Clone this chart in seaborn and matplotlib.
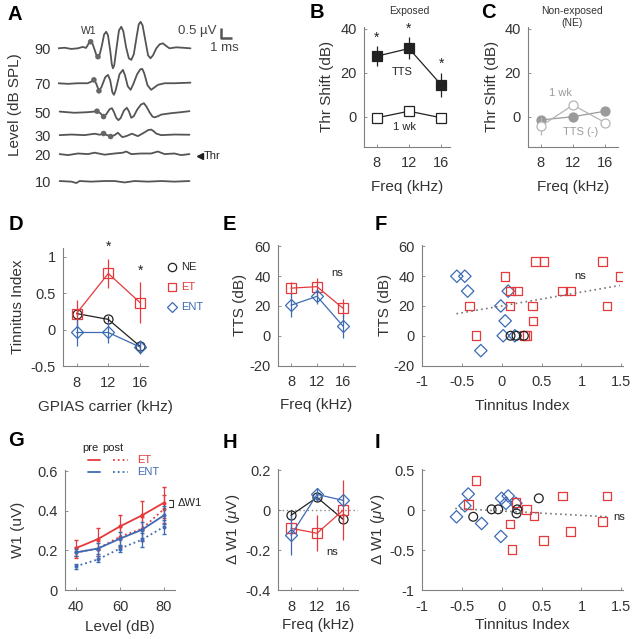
import numpy as np
import matplotlib
matplotlib.use("Agg")
import matplotlib.pyplot as plt
from matplotlib.ticker import FormatStrFormatter
import seaborn as sns

# ---------------- data ----------------
# A: ABR traces, (time ms, amplitude uV)
abr_levels = [90, 70, 50, 30, 20, 10]
abr_90 = [(0, 0), (0.6, 0.03), (1.2, -0.03), (1.8, 0), (2.25, 0.07), (2.55, 0.02),
          (2.8, 0.25), (2.97, 0.33), (3.15, 0.22), (3.35, -0.1), (3.5, -0.35), (3.64, -0.42),
          (3.8, -0.3), (4.0, 0.15), (4.2, 0.7), (4.39, 0.83), (4.55, 0.65), (4.75, -0.1),
          (4.9, -0.8), (5.0, -1.0), (5.12, -0.85), (5.35, 0.1), (5.55, 0.9), (5.76, 1.08),
          (5.95, 0.85), (6.2, 0.05), (6.45, -0.5), (6.67, -0.58), (6.9, -0.3), (7.15, 0.55),
          (7.35, 1.2), (7.52, 1.33), (7.7, 1.15), (7.95, 0.4), (8.2, -0.35), (8.42, -0.5),
          (8.65, -0.35), (8.95, 0.0), (9.25, 0.2), (9.55, 0.25), (9.85, 0.12), (10.15, 0),
          (10.75, 0.05), (11.35, 0.03), (12.06, 0)]
abr_70 = [(0, 0), (0.9, -0.03), (1.8, 0), (2.7, 0), (3.1, 0.1), (3.27, 0.17), (3.45, 0.02),
          (3.73, -0.38), (3.95, -0.2), (4.3, 0.3), (4.55, 0.42), (4.75, 0.15), (4.95, -0.45),
          (5.09, -0.58), (5.25, -0.35), (5.6, 0.45), (5.91, 0.67), (6.1, 0.4), (6.35, -0.15),
          (6.61, -0.33), (6.85, -0.05), (7.2, 0.45), (7.5, 0.7), (7.67, 0.72), (7.85, 0.5),
          (8.15, -0.1), (8.48, -0.33), (8.8, -0.2), (9.1, -0.08), (9.7, 0), (10.6, 0),
          (12.06, 0.03)]
abr_50 = [(0.15, 0.03), (1.5, -0.03), (2.7, 0), (3.3, 0.03), (3.55, 0.05), (3.85, -0.05),
          (4.15, -0.22), (4.4, -0.1), (4.7, 0.15), (4.91, 0.2), (5.1, 0.0), (5.3, -0.28),
          (5.5, -0.4), (5.7, -0.3), (6.0, 0.08), (6.27, 0.22), (6.45, 0.05), (6.67, -0.28),
          (6.9, -0.2), (7.2, 0.12), (7.55, 0.38), (7.82, 0.45), (8.05, 0.28), (8.33, 0.0),
          (8.6, -0.22), (8.79, -0.26), (9.1, -0.2), (9.4, -0.12), (10.3, -0.05), (11.2, 0),
          (11.97, 0.05)]
abr_30 = [(0.15, 0), (1.21, 0.03), (2.42, 0), (3.33, 0.07), (3.8, 0.02), (4.15, 0.08),
          (4.48, 0), (4.79, -0.07), (5.15, 0), (5.45, 0.12), (5.85, -0.1), (6.21, -0.05),
          (6.73, 0.07), (7.27, -0.05), (7.6, 0.05), (7.88, 0.14), (8.2, 0.25), (8.48, 0.28),
          (8.75, 0.18), (8.94, 0.08), (9.39, 0), (10.6, 0.03), (11.97, 0.02)]
abr_20 = [(0.15, 0), (0.91, -0.05), (1.82, 0.03), (2.73, 0), (3.33, 0.07), (4.24, -0.03),
          (5.15, 0.03), (5.91, 0.07), (6.21, 0.13), (6.67, 0), (7.58, 0.03), (8.48, 0.03),
          (9.09, 0.13), (9.7, 0), (10.6, 0.03), (11.2, -0.05), (11.97, 0)]
abr_10 = [(0.15, 0), (1.21, -0.03), (1.67, -0.1), (1.97, 0), (3.03, -0.03), (4.24, 0),
          (5.15, 0), (6.06, -0.07), (6.97, 0), (8.18, -0.03), (9.39, 0), (10.6, -0.03),
          (11.97, 0)]
w1_points = [[(2.97, 0.33), (3.64, -0.42)], [(3.27, 0.17), (3.73, -0.38)],
             [(3.55, 0.05), (4.15, -0.22)], [(4.15, 0.08), (4.79, -0.07)], [], []]

freq = [8, 12, 16]

# B: exposed threshold shift
b_tts = [27.5, 31, 14.5]
b_tts_err = [4.5, 5, 5.5]
b_1wk = [-0.5, 2.5, -0.5]
b_1wk_err = [0.8, 0.8, 0.8]

# C: non-exposed
c_tts = [-1.5, 0, 2.5]
c_tts_err = [1.5, 1.5, 1.5]
c_1wk = [-4.3, 5.3, -2.7]
c_1wk_err = [4, 1.5, 1.5]

# D: tinnitus index by GPIAS carrier
d_ne = [0.22, 0.14, -0.23]
d_ne_err = [0.04, 0.04, 0.05]
d_et = [0.22, 0.77, 0.37]
d_et_err = [0.18, 0.2, 0.28]
d_ent = [-0.04, -0.04, -0.24]
d_ent_err = [0.18, 0.14, 0.1]

# E: TTS by freq
e_et = [32, 33, 18.5]
e_et_err = [4, 6, 6]
e_ent = [20.5, 26.5, 6.5]
e_ent_err = [8, 5, 8]

# F: TTS vs tinnitus index
f_ent_x = [-0.56, -0.46, -0.425, -0.26, -0.01, 0.045, 0.02, 0.083, 0.166]
f_ent_y = [40, 40, 30, -10, 20, 10, 0, 30, 0]
f_et_x = [-0.405, -0.321, 0.041, 0.104, 0.112, 0.196, 0.29, 0.32, 0.387, 0.395,
          0.425, 0.529, 0.76, 0.865, 1.263, 1.32, 1.49]
f_et_y = [20, 0, 40, 20, 30, 30, 0, 0, 20, 10, 50, 50, 30, 30, 50, 20, 40]
f_ne_x = [0.112, 0.187, 0.279]
f_ne_y = [0, 0, 0]
f_fit_x = [-0.565, 1.48]
f_fit_y = [14.8, 33.8]

# G: W1 amplitude vs level
g_level = [40, 50, 60, 70, 80]
g_et_pre = [0.212, 0.258, 0.322, 0.378, 0.442]
g_et_pre_err = [0.04, 0.055, 0.06, 0.075, 0.08]
g_et_post = [0.19, 0.21, 0.27, 0.31, 0.41]
g_et_post_err = [0.03, 0.04, 0.05, 0.06, 0.07]
g_ent_pre = [0.19, 0.21, 0.26, 0.305, 0.378]
g_ent_pre_err = [0.02, 0.03, 0.035, 0.04, 0.045]
g_ent_post = [0.12, 0.155, 0.21, 0.255, 0.32]
g_ent_post_err = [0.012, 0.015, 0.02, 0.035, 0.035]

# H: delta W1 by freq
h_ne = [-0.025, 0.065, -0.045]
h_ne_err = [0.02, 0.02, 0.02]
h_et = [-0.09, -0.115, 0.0]
h_et_err = [0.03, 0.09, 0.15]
h_ent = [-0.125, 0.08, 0.05]
h_ent_err = [0.1, 0.03, 0.02]

# I: delta W1 vs tinnitus index
i_ent_x = [-0.564, -0.459, -0.417, -0.25, -0.009, 0.0, 0.054, 0.083, 0.179]
i_ent_y = [-0.084, 0.054, 0.201, -0.168, -0.33, 0.147, 0.084, 0.176, 0.084]
i_et_x = [-0.417, -0.321, 0.104, 0.13, 0.179, 0.312, 0.404, 0.524, 0.76, 0.865, 1.26, 1.32]
i_et_y = [0.072, 0.369, -0.176, -0.49, 0.097, 0.009, -0.072, -0.383, 0.175, -0.27,
          -0.146, 0.175]
i_ne_x = [-0.355, -0.125, -0.042, 0.196, 0.187, 0.466]
i_ne_y = [-0.084, 0.009, 0.009, 0.009, -0.042, 0.147]
i_fit_x = [-0.58, 1.35]
i_fit_y = [0.02, -0.085]

# ---------------- style ----------------
sns.set_style("ticks")
plt.rcParams['font.family'] = ['Liberation Sans', 'DejaVu Sans']
plt.rcParams['axes.unicode_minus'] = False
plt.rcParams['mathtext.fontset'] = 'custom'
plt.rcParams['mathtext.rm'] = 'Liberation Sans'
plt.rcParams['mathtext.it'] = 'Liberation Sans:italic'

RED = '#e5393c'
BLUE = '#3c6bb4'
TXT = '#333333'
SPINE = '#808080'

W, H = 636, 639
fig = plt.figure(figsize=(W / 100, H / 100), dpi=100)


def box(l, t, r, b):
    return fig.add_axes([l / W, 1 - b / H, (r - l) / W, (b - t) / H])


def style_ax(ax, xlab, ylab, ylab_off, xlab_off):
    sns.despine(ax=ax)
    for s in ['left', 'bottom']:
        ax.spines[s].set_color(SPINE)
        ax.spines[s].set_linewidth(0.8)
    ax.tick_params(direction='in', length=2, width=0.6, color=SPINE,
                   labelsize=10.5, labelcolor=TXT)
    ax.tick_params(axis='y', pad=5)
    ax.tick_params(axis='x', pad=7)
    ax.set_facecolor('none')
    ax.yaxis.set_major_formatter(FormatStrFormatter('%g'))
    ax.xaxis.set_major_formatter(FormatStrFormatter('%g'))
    bb = ax.get_position()
    wpx, hpx = bb.width * W, bb.height * H
    ax.set_xlabel(xlab, fontsize=11, color=TXT)
    ax.set_ylabel(ylab, fontsize=11, color=TXT)
    ax.yaxis.set_label_coords(-(ylab_off - 7) / wpx, 0.5)
    ax.xaxis.set_label_coords(0.5, -(xlab_off - 7) / hpx)


def err_line(ax, x, y, e, color, marker, mfc, ms=6, ls='-', lw=0.9, cap=0):
    ax.errorbar(x, y, yerr=e, fmt='none', ecolor=color, elinewidth=0.9, capsize=cap)
    sns.lineplot(x=x, y=y, ax=ax, color=color, lw=lw, ls=ls, marker=marker, ms=ms,
                 markerfacecolor=mfc, markeredgecolor=color, markeredgewidth=0.9)


# ---------------- A ----------------
axA = box(58, 15, 192, 195)
trace_offset = [0, -1.75, -3.2, -4.35, -5.3, -6.65]
for trace, off, w1 in zip([abr_90, abr_70, abr_50, abr_30, abr_20, abr_10], trace_offset, w1_points):
    arr = np.array(trace)
    sns.lineplot(x=arr[:, 0], y=arr[:, 1] + off, ax=axA, color='#555555', lw=1.3,
                 sort=False, estimator=None)
    if w1:
        p = np.array(w1)
        sns.scatterplot(x=p[:, 0], y=p[:, 1] + off, ax=axA, color='#666666', s=16,
                        edgecolor='none', zorder=3)
axA.set_xlim(0, 12.2)
axA.set_ylim(-7.35, 1.67)
axA.set_yticks(trace_offset)
axA.set_yticklabels([str(v) for v in abr_levels])
axA.set_xticks([])
axA.tick_params(axis='y', length=0, pad=5, labelsize=10.5, labelcolor=TXT)
sns.despine(ax=axA, left=True, bottom=True)
axA.set_facecolor('none')
axA.set_ylabel('Level (dB SPL)', fontsize=11, color=TXT)
axA.yaxis.set_label_coords(-(43 - 7) / 134, 0.5)

# ---------------- B ----------------
axB = box(364, 26.5, 450, 146.6)
err_line(axB, freq, b_tts, b_tts_err, '#222222', 's', '#222222', ms=6.5)
err_line(axB, freq, b_1wk, b_1wk_err, '#222222', 's', 'white', ms=6.5)
for x, y, e in zip(freq, b_tts, b_tts_err):
    axB.text(x, y + e + 4, '*', ha='center', va='center', fontsize=10, color='#222222')
axB.text(11.15, 20.3, 'TTS', ha='center', va='center', fontsize=8, color='#222222')
axB.text(11.5, -4.7, '1 wk', ha='center', va='center', fontsize=8, color='#222222')
axB.set_xlim(6.4, 17.1)
axB.set_ylim(-13.6, 41)
axB.set_xticks(freq)
axB.set_yticks([0, 20, 40])
style_ax(axB, 'Freq (kHz)', 'Thr Shift (dB)', 37, 40)

# ---------------- C ----------------
axC = box(528, 26.5, 618, 146.6)
err_line(axC, freq, c_tts, c_tts_err, '#9a9a9a', 'o', '#9a9a9a', ms=6.5)
err_line(axC, freq, c_1wk, c_1wk_err, '#b5b5b5', 'o', 'white', ms=6.5)
axC.text(10.4, 10.8, '1 wk', ha='center', va='center', fontsize=8, color='#9a9a9a')
axC.text(12.9, -7, 'TTS (-)', ha='center', va='center', fontsize=8, color='#9a9a9a')
axC.set_xlim(6.4, 17.6)
axC.set_ylim(-13.6, 41)
axC.set_xticks(freq)
axC.set_yticks([0, 20, 40])
style_ax(axC, 'Freq (kHz)', 'Thr Shift (dB)', 36, 40)

# ---------------- D ----------------
axD = box(63, 248, 148, 366)
err_line(axD, freq, d_ne, d_ne_err, '#222222', 'o', 'none', ms=6.5)
err_line(axD, freq, d_et, d_et_err, RED, 's', 'none', ms=6.5)
err_line(axD, freq, d_ent, d_ent_err, BLUE, 'D', 'none', ms=6)
for i in [1, 2]:
    axD.text(freq[i], d_et[i] + d_et_err[i] + 0.16, '*', ha='center', va='center',
             fontsize=10, color='#222222')
axD.set_xlim(6.3, 17)
axD.set_ylim(-0.49, 1.12)
axD.set_xticks(freq)
axD.set_yticks([-0.5, 0, 0.5, 1])
style_ax(axD, 'GPIAS carrier (kHz)', 'Tinnitus Index', 45, 41)

# ---------------- E ----------------
axE = box(277.7, 245, 355, 365.5)
err_line(axE, freq, e_et, e_et_err, RED, 's', 'none', ms=6.5)
err_line(axE, freq, e_ent, e_ent_err, BLUE, 'D', 'none', ms=6)
axE.text(15.1, 42.3, 'ns', ha='center', va='center', fontsize=8, color='#222222')
axE.set_xlim(5.95, 17.85)
axE.set_ylim(-19.8, 61)
axE.set_xticks(freq)
axE.set_yticks([-20, 0, 20, 40, 60])
style_ax(axE, 'Freq (kHz)', 'TTS (dB)', 37.7, 40)

# ---------------- F ----------------
axF = box(421.7, 245, 623, 365.5)
sns.lineplot(x=f_fit_x, y=f_fit_y, ax=axF, color='#777777', lw=1.2, ls=(0, (1, 2)))
sns.scatterplot(x=f_ent_x, y=f_ent_y, ax=axF, marker='D', s=40, color=BLUE,
                facecolor='none', edgecolor=BLUE, linewidth=0.9)
sns.scatterplot(x=f_et_x, y=f_et_y, ax=axF, marker='s', s=38, color=RED,
                facecolor='none', edgecolor=RED, linewidth=0.9)
sns.scatterplot(x=f_ne_x, y=f_ne_y, ax=axF, marker='o', s=40, color='#222222',
                facecolor='none', edgecolor='#222222', linewidth=0.9)
axF.text(0.98, 40, 'ns', ha='center', va='center', fontsize=8, color='#222222')
axF.set_xlim(-1, 1.52)
axF.set_ylim(-19.8, 61)
axF.set_xticks([-1, -0.5, 0, 0.5, 1, 1.5])
axF.set_yticks([-20, 0, 20, 40, 60])
style_ax(axF, 'Tinnitus Index', 'TTS (dB)', 36.7, 40)

# ---------------- G ----------------
axG = box(65, 469.5, 175, 590)
for vals, errs, col, ls in [(g_et_pre, g_et_pre_err, RED, '-'), (g_et_post, g_et_post_err, RED, ':'),
                            (g_ent_pre, g_ent_pre_err, BLUE, '-'),
                            (g_ent_post, g_ent_post_err, BLUE, ':')]:
    err_line(axG, g_level, vals, errs, col, 'o', col, ms=2, ls=ls, lw=1.3, cap=1.5)
axG.plot([82.3, 84.3, 84.3, 82.3], [0.458, 0.458, 0.418, 0.418], color='#333333',
         lw=0.8, clip_on=False)
axG.text(86.2, 0.438, '\u0394W1', ha='left', va='center', fontsize=8, color='#222222')
axG.set_xlim(35, 85)
axG.set_ylim(0, 0.61)
axG.set_xticks([40, 60, 80])
axG.set_yticks([0, 0.2, 0.4, 0.6])
style_ax(axG, 'Level (dB)', 'W1 (uV)', 47, 37)

# ---------------- H ----------------
axH = box(277.7, 468.5, 358, 590)
axH.axhline(0, color='#888888', lw=1.0, ls=(0, (1, 2)), zorder=0)
err_line(axH, freq, h_ne, h_ne_err, '#222222', 'o', 'none', ms=6.5)
err_line(axH, freq, h_et, h_et_err, RED, 's', 'none', ms=6.5)
err_line(axH, freq, h_ent, h_ent_err, BLUE, 'D', 'none', ms=6)
axH.text(14.3, -0.21, 'ns', ha='center', va='center', fontsize=8, color='#222222')
axH.set_xlim(5.95, 18.3)
axH.set_ylim(-0.4, 0.21)
axH.set_xticks(freq)
axH.set_yticks([-0.4, -0.2, 0, 0.2])
style_ax(axH, 'Freq (kHz)', '\u0394 W1 ($\\mu$V)', 42.7, 35)

# ---------------- I ----------------
axI = box(421.7, 468.5, 623, 590)
sns.lineplot(x=i_fit_x, y=i_fit_y, ax=axI, color='#777777', lw=1.2, ls=(0, (1, 2)))
sns.scatterplot(x=i_ent_x, y=i_ent_y, ax=axI, marker='D', s=40, color=BLUE,
                facecolor='none', edgecolor=BLUE, linewidth=0.9)
sns.scatterplot(x=i_et_x, y=i_et_y, ax=axI, marker='s', s=38, color=RED,
                facecolor='none', edgecolor=RED, linewidth=0.9)
sns.scatterplot(x=i_ne_x, y=i_ne_y, ax=axI, marker='o', s=40, color='#222222',
                facecolor='none', edgecolor='#222222', linewidth=0.9)
axI.text(1.47, -0.09, 'ns', ha='center', va='center', fontsize=8, color='#222222')
axI.set_xlim(-1, 1.52)
axI.set_ylim(-1, 0.52)
axI.set_xticks([-1, -0.5, 0, 0.5, 1, 1.5])
axI.set_yticks([-1, -0.5, 0, 0.5])
style_ax(axI, 'Tinnitus Index', '\u0394 W1 ($\\mu$V)', 41.7, 35)

# ---------------- overlay: letters, scale bar, legends ----------------
ov = fig.add_axes([0, 0, 1, 1])
ov.set_xlim(0, W)
ov.set_ylim(H, 0)
ov.axis('off')
for letter, (lx, ly) in zip('ABCDEFGHI', [(15, 15), (317, 13), (488, 13), (16, 225), (229, 225),
                                         (381, 225), (16, 441), (230, 443), (377, 443)]):
    ov.text(lx, ly, letter, fontsize=14.5, fontweight='bold', ha='center', va='center', color='black')

# scale bar in A
ov.plot([221, 221, 232], [27.7, 37.7, 37.7], color='#555555', lw=1.8, solid_capstyle='butt')
ov.text(216, 31, '0.5 \u00b5V', ha='right', va='center', fontsize=9.5, color='#444444')
ov.text(224, 48, '1 ms', ha='center', va='center', fontsize=9.5, color='#444444')
ov.text(89, 31, 'W1', ha='center', va='center', fontsize=7.5, color='#333333')
ov.plot([199.5], [155.5], marker='<', ms=4.5, color='#222222')
ov.text(204, 156, 'Thr', ha='left', va='center', fontsize=8, color='#222222')

# titles B / C
ov.text(409, 11, 'Exposed', ha='center', va='center', fontsize=7.5, color='#333333')
ov.text(572, 17, 'Non-exposed\n(NE)', ha='center', va='center', fontsize=7.5, color='#333333',
        linespacing=1.15)

# legend D
for (mk, col, lab), ly in zip([('o', '#222222', 'NE'), ('s', RED, 'ET'), ('D', BLUE, 'ENT')],
                              [267, 287, 307]):
    ov.plot([172], [ly], marker=mk, ms=6 if mk != 'D' else 5.5, mfc='none', mec=col, mew=0.9)
    ov.text(181, ly, lab, ha='left', va='center', fontsize=8, color=col)

# legend G
ov.text(90, 448, 'pre', ha='center', va='center', fontsize=8, color='#222222')
ov.text(113, 448, 'post', ha='center', va='center', fontsize=8, color='#222222')
for col, lab, ly in [(RED, 'ET', 460), (BLUE, 'ENT', 472)]:
    ov.plot([88, 100], [ly, ly], color=col, lw=1.3)
    ov.plot([113, 128], [ly, ly], color=col, lw=1.3, ls=':')
    ov.text(137, ly, lab, ha='left', va='center', fontsize=8, color=col)

fig.savefig('out.png', dpi=100)
